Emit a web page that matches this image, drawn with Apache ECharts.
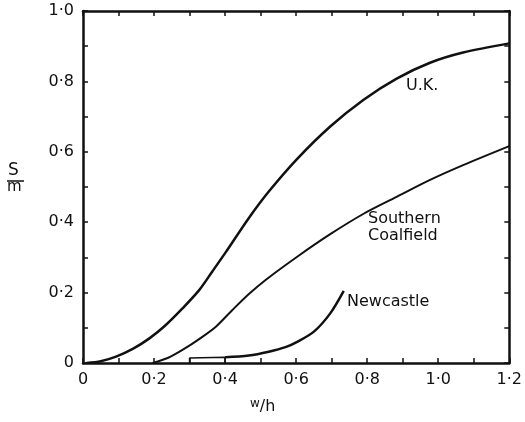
<!DOCTYPE html>
<html><head><meta charset="utf-8">
<script src="https://cdn.jsdelivr.net/npm/echarts@6/dist/echarts.min.js"></script>
<style>html,body{margin:0;padding:0;background:#fff}#c{width:525px;height:422px}</style>
</head><body><div id="c"></div>
<script>
const ukPoints = [[0.01,0],[0.05,0.005],[0.093,0.018],[0.14,0.04],[0.187,0.07],[0.23,0.105],[0.28,0.155],[0.327,0.207],[0.364,0.26],[0.402,0.315],[0.467,0.412],[0.523,0.487],[0.603,0.58],[0.696,0.672],[0.79,0.748],[0.883,0.808],[0.977,0.853],[1.07,0.882],[1.2,0.908]];
const southernPoints = [[0.196,0],[0.24,0.015],[0.28,0.037],[0.33,0.07],[0.374,0.103],[0.42,0.15],[0.467,0.196],[0.514,0.236],[0.603,0.302],[0.696,0.366],[0.79,0.424],[0.883,0.472],[0.977,0.52],[1.07,0.562],[1.2,0.616]];
const newcastleBracket = [[0.3,0],[0.3,0.014],[0.4,0.016],[0.4,0]];
const newcastlePoints = [[0.4,0.016],[0.467,0.021],[0.523,0.032],[0.57,0.045],[0.603,0.06],[0.65,0.089],[0.696,0.141],[0.734,0.205]];
const xTicks = [0,0.2,0.4,0.6,0.8,1.0,1.2];
const yTicks = [0,0.2,0.4,0.6,0.8,1.0];

const fmt = v => {
  const t = Math.round(v * 10);
  if (t % 2) return '';
  return t === 0 ? '0' : (t / 10).toFixed(1).replace('.', '\u00b7');
};
const font = 'DejaVu Sans';
const ink = '#111';
const chart = echarts.init(document.getElementById('c'));
const mk = () => ({
  min: 0, interval: 0.1, splitLine: {show: false},
  axisLine: {show: true, onZero: false, lineStyle: {color: ink, width: 2.5}},
  axisTick: {show: true, inside: true, length: 5, lineStyle: {color: ink, width: 1.5}},
  axisLabel: {show: true, color: ink, fontFamily: font, fontSize: 16, formatter: fmt, hideOverlap: false}
});
const lineS = (data, w, smooth) => ({
  type: 'line', data, symbol: 'none', smooth: smooth,
  lineStyle: {color: ink, width: w}, xAxisIndex: 0, yAxisIndex: 0, animation: false
});
const xb = Object.assign(mk(), {type: 'value', max: 1.2, position: 'bottom'});
xb.axisLabel.margin = 9;
const yl = Object.assign(mk(), {type: 'value', max: 1.0, position: 'left'});
yl.axisLabel.margin = 9;
chart.setOption({
  animation: false,
  grid: {left: 83, right: 14, top: 11, bottom: 59},
  xAxis: [
    xb,
    Object.assign(mk(), {type: 'value', max: 1.2, position: 'top', axisLabel: {show: false}})
  ],
  yAxis: [
    yl,
    Object.assign(mk(), {type: 'value', max: 1.0, position: 'right', axisLabel: {show: false}})
  ],
  series: [
    lineS(ukPoints, 2.5, 0.3),
    lineS(southernPoints, 2, 0.3),
    lineS(newcastleBracket, 1.5, false),
    lineS(newcastlePoints, 2.5, 0.3)
  ],
  graphic: [
    {type: 'text', left: 406, top: 78, style: {text: 'U.K.', font: '16px "' + font + '"', fill: ink}},
    {type: 'text', left: 368, top: 210, style: {text: 'Southern\nCoalfield', font: '16px "' + font + '"', fill: ink, lineHeight: 17}},
    {type: 'text', left: 347, top: 294, style: {text: 'Newcastle', font: '16px "' + font + '"', fill: ink}},
    {type: 'text', left: 8, top: 162, style: {text: 'S', font: '17px "' + font + '"', fill: ink}},
    {type: 'line', shape: {x1: 7, y1: 181, x2: 24, y2: 181}, style: {stroke: ink, lineWidth: 1.5}},
    {type: 'text', left: 7, top: 180, style: {text: 'm', font: '15px "' + font + '"', fill: ink}},
    {type: 'text', left: 250, top: 398, style: {text: '{a|w}{b|/h}', rich: {a: {fontSize: 12, fontFamily: font, fill: ink, verticalAlign: 'top', padding: [0,0,6,0]}, b: {fontSize: 16, fontFamily: font, fill: ink}}}}
  ]
});
</script></body></html>
